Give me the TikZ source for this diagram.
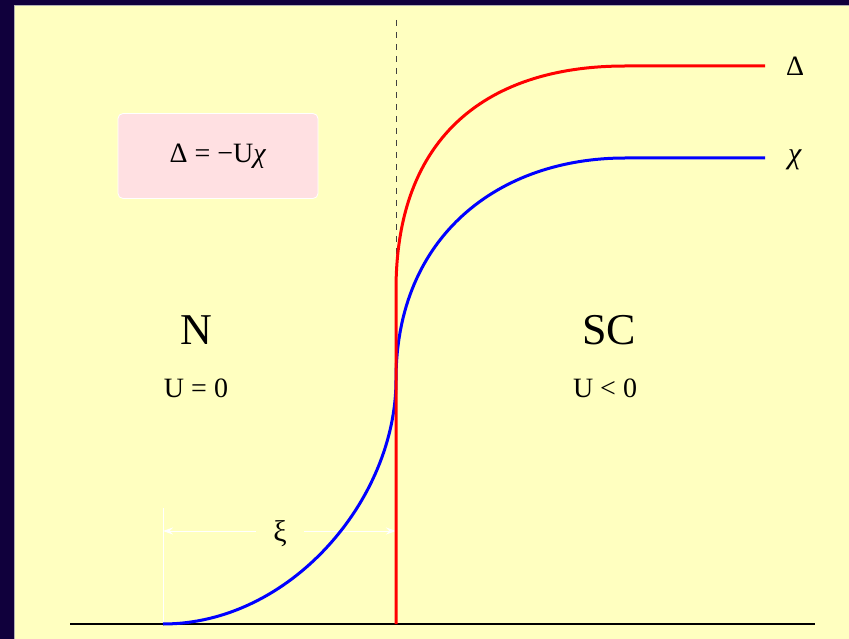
\documentclass[tikz,border=0pt]{standalone}
\usepackage{fontspec}
\setmainfont{Liberation Serif}
\usepackage{xcolor}
\usetikzlibrary{arrows.meta}

\definecolor{navy}{HTML}{10003C}
\definecolor{paper}{HTML}{FFFFC0}
\definecolor{boxpink}{HTML}{FFE0E2}

\tikzset{
  curve/.style={line width=3pt},
  dimline/.style={white, line width=1pt, -{Stealth[length=10pt,width=7pt]}},
}

\begin{document}
\begin{tikzpicture}[x=1pt,y=-1pt]
        \useasboundingbox (0,0) rectangle (849,639);
        \fill[navy] (0,0) rectangle (849,639);
        \fill[paper] (14,5) rectangle (849,639);
        \draw[gray!60, line width=0.6pt] (14,639) -- (14,5) -- (849,5);

        % points on the curves
        \coordinate (o) at (396,624);
        \coordinate (bend) at (396,290);
        \coordinate (mid) at (396,380);
        \coordinate (start) at (163,624);
        \coordinate (dtop) at (625,66);
        \coordinate (ctop) at (625,158);
        \coordinate (dend) at (765,66);
        \coordinate (cend) at (765,158);

        % xi
        \draw[white, line width=1pt] (163,508) -- (start);
        \node[font=\fontsize{30}{34}\selectfont, minimum width=48pt, inner sep=0pt] (xi) at (280,534) {ξ};
        \coordinate (xl) at (163,531);
        \coordinate (xr) at (396,531);
        \draw[dimline] (xi.west |- xl) -- (xl);
        \draw[dimline] (xi.east |- xr) -- (xr);

        \draw[black!75, line width=0.8pt, dash pattern=on 6pt off 6pt] (396,20) -- (bend);
        \draw[black, line width=1.2pt] (70,624) -- (815,624);

        \draw[curve, blue] (start) .. controls (290,624) and (396,500) .. (mid)
              .. controls (396,235) and (500,158) .. (ctop) -- (cend);
        \draw[curve, red] (o) -- (bend) .. controls (396,125) and (500,66) .. (dtop) -- (dend);

        \node[font=\fontsize{28}{32}\selectfont] (dlab) at (795,66) {Δ};
        \node[font=\fontsize{30}{34}\selectfont] (clab) at (795,160) {\textit{χ}};

        \node[rounded corners=5pt, fill=boxpink, draw=white, line width=0.8pt,
              minimum width=200pt, minimum height=85pt, font=\fontsize{28}{32}\selectfont] (gap) at (218,156) {Δ = −U\textit{χ}};

        \node[font=\fontsize{44}{50}\selectfont] (n) at (196,330) {N};
        \node[font=\fontsize{28}{32}\selectfont] (un) at (196,388) {U = 0};
        \node[font=\fontsize{44}{50}\selectfont] (sc) at (609,330) {SC};
        \node[font=\fontsize{28}{32}\selectfont] (usc) at (605,388) {U < 0};
    \end{tikzpicture}
\end{document}
